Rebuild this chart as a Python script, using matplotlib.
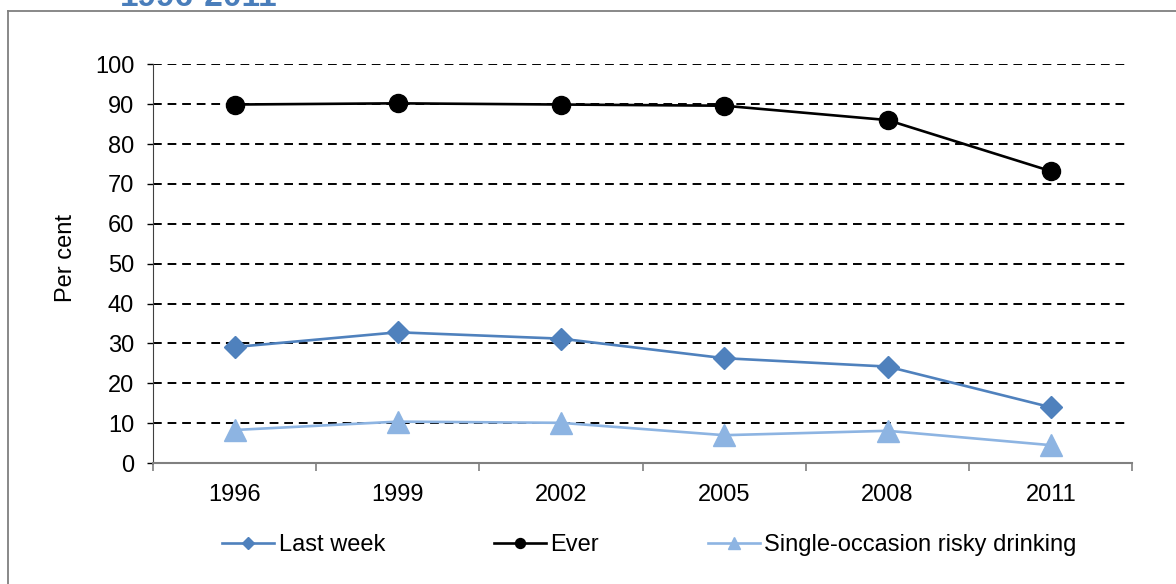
import matplotlib.pyplot as plt
from matplotlib.lines import Line2D

plt.rcParams['font.family'] = ['Liberation Sans', 'DejaVu Sans']

# Survey years and percentages for each measure
years = ['1996', '1999', '2002', '2005', '2008', '2011']
last_week = [29.1, 32.8, 31.2, 26.3, 24.2, 14.0]
ever = [89.9, 90.2, 89.9, 89.6, 86.0, 73.2]
risky = [8.3, 10.4, 10.1, 7.0, 8.1, 4.5]

fig = plt.figure(figsize=(11.76, 5.84), dpi=100)
ax = fig.add_axes([0.130, 0.207, 0.833, 0.683])

x = range(len(years))
ax.plot(x, last_week, color='#4F81BD', lw=1.9, marker='D', ms=11.5, label='Last week')
ax.plot(x, ever, color='black', lw=1.9, marker='o', ms=13, label='Ever')
ax.plot(x, risky, color='#8DB4E2', lw=1.9, marker='^', ms=15.5, label='Single-occasion risky drinking')

ax.set_xlim(-0.5, 5.5)
ax.set_ylim(0, 100)
ax.set_yticks(range(0, 101, 10))
ax.set_xticks(x)
ax.set_xticklabels(years)
ax.set_xticks([i - 0.5 for i in range(7)], minor=True)
ax.tick_params(axis='x', which='major', length=0, pad=15, labelsize=17)
ax.tick_params(axis='x', which='minor', length=6, width=1.2, color='#808080', direction='out')
ax.tick_params(axis='y', length=4.5, width=1, direction='out', labelsize=17, pad=9)

# dashed horizontal gridlines
for v in range(10, 101, 10):
    ax.plot([-0.5, 5.47], [v, v], color='black', lw=1.4, ls=(0, (4.5, 3)), zorder=0)

for side in ['top', 'right']:
    ax.spines[side].set_visible(False)
ax.spines['left'].set_color('#404040')
ax.spines['bottom'].set_color('#808080')
ax.spines['bottom'].set_linewidth(1.5)

ax.set_ylabel('Per cent', fontsize=17)
ax.yaxis.set_label_coords(-0.077, 0.515)

ax.legend(loc='upper center', bbox_to_anchor=(0.507, -0.125), ncol=3, frameon=False,
          fontsize=17, markerscale=0.55, handlelength=2.2, handletextpad=0.2,
          columnspacing=4.6)

# outer chart border (top and left edges)
fig.add_artist(Line2D([8 / 1176, 1], [1 - 11 / 584] * 2, transform=fig.transFigure,
                      color='#7F7F7F', lw=1.3))
fig.add_artist(Line2D([8 / 1176] * 2, [0, 1 - 11 / 584], transform=fig.transFigure,
                      color='#7F7F7F', lw=1.3))

fig.text(0.102, 1 - 6 / 584, '1996-2011', fontsize=24, weight='bold', color='#4A7EBB',
         va='baseline')

fig.savefig('out.png', dpi=100)
